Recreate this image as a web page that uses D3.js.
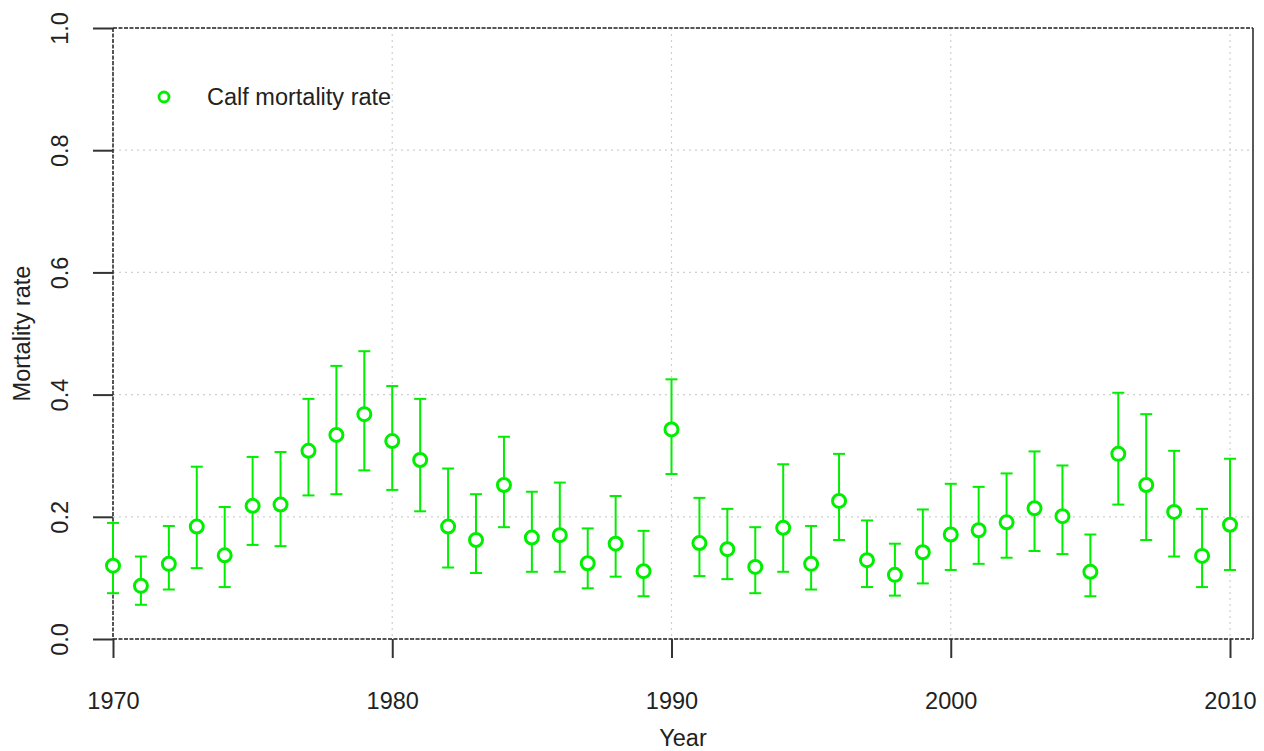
<!DOCTYPE html>
<html>
<head>
<meta charset="utf-8">
<script src="https://cdn.jsdelivr.net/npm/d3@7"></script>
<style>
  body { margin: 0; background: #fff; }
  svg { font-family: "Liberation Sans", Arial, sans-serif; }
</style>
</head>
<body>
<svg id="chart" width="1264" height="751"></svg>
<script>
var years = d3.range(1970, 2011);
var rate  = [0.120, 0.087, 0.123, 0.184, 0.137, 0.218, 0.220, 0.308, 0.334, 0.368,
             0.324, 0.293, 0.184, 0.162, 0.252, 0.166, 0.170, 0.124, 0.156, 0.111,
             0.343, 0.157, 0.147, 0.118, 0.182, 0.123, 0.226, 0.129, 0.105, 0.142,
             0.171, 0.178, 0.191, 0.214, 0.201, 0.110, 0.303, 0.252, 0.208, 0.136,
             0.187];
var upper = [0.190, 0.135, 0.185, 0.282, 0.216, 0.298, 0.306, 0.393, 0.447, 0.471,
             0.414, 0.393, 0.279, 0.237, 0.331, 0.241, 0.256, 0.181, 0.234, 0.177,
             0.425, 0.231, 0.213, 0.183, 0.286, 0.185, 0.303, 0.194, 0.156, 0.212,
             0.254, 0.249, 0.271, 0.307, 0.284, 0.171, 0.403, 0.368, 0.308, 0.213,
             0.295];
var lower = [0.075, 0.056, 0.081, 0.116, 0.085, 0.154, 0.152, 0.235, 0.237, 0.276,
             0.244, 0.209, 0.117, 0.108, 0.183, 0.110, 0.110, 0.083, 0.102, 0.070,
             0.270, 0.103, 0.098, 0.075, 0.110, 0.081, 0.162, 0.085, 0.071, 0.091,
             0.113, 0.123, 0.133, 0.144, 0.139, 0.070, 0.220, 0.162, 0.135, 0.085,
             0.113];
var xTicks = [1970, 1980, 1990, 2000, 2010];
var yTicks = [0, 0.2, 0.4, 0.6, 0.8, 1.0];

var svg = d3.select("#chart");
var pLeft = 113, pRight = 1253, pTop = 28, pBottom = 639;

var x = d3.scaleLinear().domain([1970, 2010]).range([pLeft, 1230]);
var y = d3.scaleLinear().domain([0, 1]).range([pBottom, pTop]);

var green = "#00ee00";
var fs = "23.5px";

// grid
svg.append("g").selectAll("line").data(xTicks).enter().append("line")
	.attr("x1", d => x(d)).attr("x2", d => x(d))
	.attr("y1", pTop).attr("y2", pBottom)
	.style("stroke", "#cfcfcf").style("stroke-width", 1.2).style("stroke-dasharray", "2,4");
svg.append("g").selectAll("line").data(yTicks).enter().append("line")
	.attr("x1", pLeft).attr("x2", pRight)
	.attr("y1", d => y(d)).attr("y2", d => y(d))
	.style("stroke", "#cfcfcf").style("stroke-width", 1.2).style("stroke-dasharray", "2,4");

// box: dashed where it sits on a grid line, solid on the right
var box = svg.append("g").style("stroke", "#222").style("stroke-width", 1.5);
box.append("line").attr("x1", pLeft).attr("x2", pRight).attr("y1", pTop).attr("y2", pTop).style("stroke-dasharray", "4,1.5");
box.append("line").attr("x1", pLeft).attr("x2", pRight).attr("y1", pBottom).attr("y2", pBottom).style("stroke-dasharray", "4,1.5");
box.append("line").attr("x1", pLeft).attr("x2", pLeft).attr("y1", pTop).attr("y2", pBottom).style("stroke-dasharray", "4,1.5");
box.append("line").attr("x1", pRight).attr("x2", pRight).attr("y1", pTop).attr("y2", pBottom);

// axes
var xAxis = svg.append("g").attr("transform", "translate(0," + pBottom + ")")
	.call(d3.axisBottom(x).tickValues(xTicks).tickFormat(d3.format("d")).tickSize(19).tickPadding(34));
var yAxis = svg.append("g").attr("transform", "translate(" + pLeft + ",0)")
	.call(d3.axisLeft(y).tickValues(yTicks).tickFormat(d3.format(".1f")).tickSize(20));
[xAxis, yAxis].forEach(function(a) {
	a.select(".domain").remove();
	a.selectAll(".tick line").style("stroke", "#333").style("stroke-width", 2);
	a.selectAll("text").style("font-size", fs).style("fill", "#222").style("font-family", "Liberation Sans, Arial, sans-serif");
});
yAxis.selectAll(".tick text")
	.attr("x", null).attr("dy", null)
	.attr("text-anchor", "middle")
	.attr("transform", "translate(-53,0) rotate(-90)")
	.attr("y", 8);

svg.append("text").attr("x", (pLeft + pRight) / 2).attr("y", 746)
	.attr("text-anchor", "middle").style("font-size", fs).style("fill", "#222").text("Year");
svg.append("text").attr("transform", "translate(30," + ((pTop + pBottom) / 2) + ") rotate(-90)")
	.attr("text-anchor", "middle").style("font-size", fs).style("fill", "#222").text("Mortality rate");

// error bars
var bars = svg.append("g").style("stroke", green).style("stroke-width", 2);
bars.selectAll("line.v").data(years).enter().append("line").attr("class", "v")
	.attr("x1", d => x(d)).attr("x2", d => x(d))
	.attr("y1", (d, i) => y(upper[i])).attr("y2", (d, i) => y(lower[i]));
bars.selectAll("line.up").data(years).enter().append("line").attr("class", "up")
	.attr("x1", d => x(d) - 6).attr("x2", d => x(d) + 6)
	.attr("y1", (d, i) => y(upper[i])).attr("y2", (d, i) => y(upper[i]));
bars.selectAll("line.lo").data(years).enter().append("line").attr("class", "lo")
	.attr("x1", d => x(d) - 6).attr("x2", d => x(d) + 6)
	.attr("y1", (d, i) => y(lower[i])).attr("y2", (d, i) => y(lower[i]));

// points
svg.append("g").selectAll("circle").data(years).enter().append("circle")
	.attr("cx", d => x(d)).attr("cy", (d, i) => y(rate[i]))
	.attr("r", 6.5)
	.style("fill", "white").style("stroke", green).style("stroke-width", 3);

// legend
svg.append("circle").attr("cx", 164).attr("cy", 97).attr("r", 5)
	.style("fill", "white").style("stroke", green).style("stroke-width", 2.8);
svg.append("text").attr("x", 207).attr("y", 105).style("font-size", fs).style("fill", "#222")
	.text("Calf mortality rate");
</script>
</body>
</html>
